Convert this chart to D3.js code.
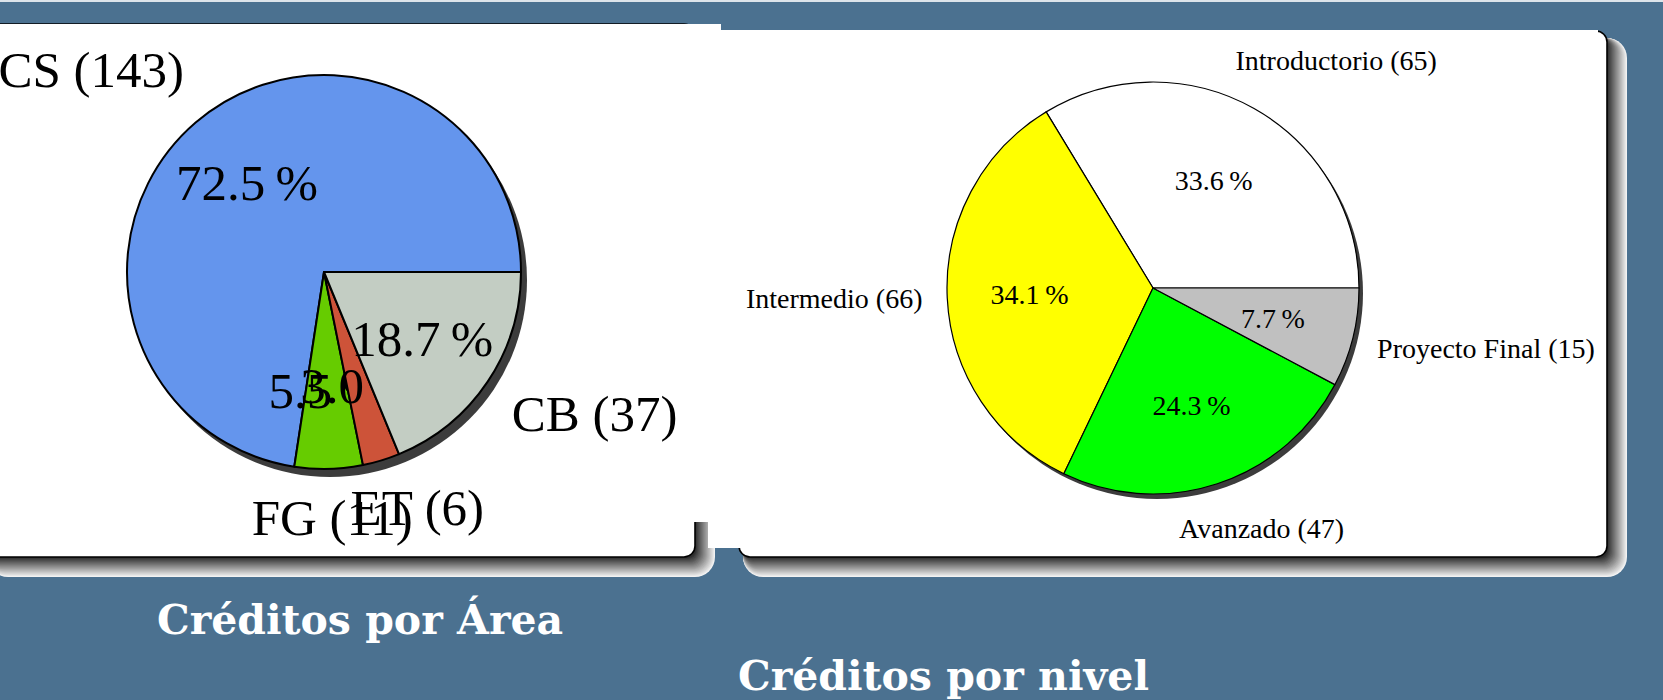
<!DOCTYPE html>
<html>
<head>
<meta charset="utf-8">
<script src="https://cdn.jsdelivr.net/npm/d3@7"></script>
<style>
  html, body { margin: 0; padding: 0; background: #4b7190; overflow: hidden; }
  svg { display: block; }
</style>
</head>
<body>
<div id="chart"></div>
<script>
// Créditos por Área
var areaNames = ["CS", "FG", "ET", "CB"];
var areaCredits = [143, 11, 6, 37];
var areaColors = ["#6495ed", "#66cc00", "#cd5339", "#c3cdc3"];

// Créditos por nivel
var levelNames = ["Introductorio", "Intermedio", "Avanzado", "Proyecto Final"];
var levelCredits = [65, 66, 47, 15];
var levelColors = ["#ffffff", "#ffff00", "#00ff00", "#c0c0c0"];

var titles = ["Créditos por Área", "Créditos por nivel"];

var width = 1663, height = 700;
var serif = "'Liberation Serif', 'DejaVu Serif', serif";

var svg = d3.select("#chart").append("svg")
  .attr("width", width)
  .attr("height", height);

svg.append("rect").attr("width", width).attr("height", height).attr("fill", "#4b7190");
svg.append("rect").attr("width", width).attr("height", 2).attr("fill", "#dde4ea");

// rounded white box with a soft shadow, plus the white picture laid over it
function panel(x, y, w, h, img) {
  var g = svg.append("g");
  var shade = d3.interpolateRgb("#2e2e2e", "#f2f2f2");
  for (var k = 20; k >= 1; k--) {
    g.append("rect")
      .attr("x", x + 4)
      .attr("y", y + 7)
      .attr("width", w + k - 4)
      .attr("height", h + k - 7)
      .attr("rx", 8 + k * 0.6)
      .attr("fill", shade((k - 1) / 19));
  }
  g.append("rect")
    .attr("x", x).attr("y", y)
    .attr("width", w).attr("height", h)
    .attr("rx", 11)
    .attr("fill", "white")
    .attr("stroke", "black")
    .attr("stroke-width", 1.6);
  g.append("rect")
    .attr("x", img[0]).attr("y", img[1])
    .attr("width", img[2]).attr("height", img[3])
    .attr("fill", "white");
}

panel(-16, 24, 711, 533, [0, 24, 721, 498]);
panel(739, 31, 868, 526, [708, 30, 890, 518]);

function drawPie(names, values, colors, opt) {
  var g = svg.append("g")
    .attr("transform", "translate(" + opt.cx + "," + opt.cy + ")")
    .style("font-family", serif);
  var total = d3.sum(values);
  // counter-clockwise from 3 o'clock, like pgf-pie
  var pie = d3.pie().sort(null)
    .startAngle(Math.PI / 2)
    .endAngle(Math.PI / 2 - 2 * Math.PI);
  var arc = d3.arc().innerRadius(0).outerRadius(opt.r);
  var arcs = pie(values);

  g.append("circle")
    .attr("cx", opt.shadow[0])
    .attr("cy", opt.shadow[1])
    .attr("r", opt.r)
    .attr("fill", "#3c3c3c");

  // each slice is drawn with its texts, so later slices cover earlier texts
  arcs.forEach(function(a, i) {
    g.append("path")
      .attr("d", arc(a))
      .attr("fill", colors[i])
      .attr("stroke", "black")
      .attr("stroke-width", opt.sw)
      .attr("stroke-linejoin", "round");

    var m = (a.startAngle + a.endAngle) / 2;
    var ux = Math.sin(m), uy = -Math.cos(m);
    var pct = (Math.floor(values[i] / total * 1000) / 10).toFixed(1) + "\u2009%";
    g.append("text")
      .attr("x", ux * opt.r * 0.6)
      .attr("y", uy * opt.r * 0.6)
      .attr("dy", "0.35em")
      .attr("text-anchor", "middle")
      .attr("font-size", opt.fs)
      .text(pct);

    var label = g.append("text")
      .attr("font-size", opt.fs)
      .text(names[i] + " (" + values[i] + ")");
    var w = label.node().getComputedTextLength();
    var px = ux * opt.r * 1.1, py = uy * opt.r * opt.ly;
    var ax = Math.max(-1, Math.min(1, 1.4 * ux));
    var ay = Math.max(-1, Math.min(1, 1.4 * uy));
    var pad = opt.fs * 0.15;
    var bw = w + 2 * pad, bh = opt.fs + 2 * pad;
    var left = px - bw * (1 - ax) / 2;
    var top = py - bh * (1 - ay) / 2;
    label.attr("x", left + pad).attr("y", top + pad + 0.75 * opt.fs);
  });
}

drawPie(areaNames, areaCredits, areaColors, {cx: 324, cy: 272, r: 197, fs: 51, sw: 2, ly: 1.1, shadow: [6, 8]});
drawPie(levelNames, levelCredits, levelColors, {cx: 1153, cy: 288, r: 206, fs: 28, sw: 1.2, ly: 1.15, shadow: [4, 5]});

svg.append("text")
  .attr("x", 157).attr("y", 634)
  .attr("fill", "white")
  .attr("font-family", "'DejaVu Serif', serif")
  .attr("font-weight", "bold")
  .attr("font-size", 41)
  .text(titles[0]);

svg.append("text")
  .attr("x", 738).attr("y", 690)
  .attr("fill", "white")
  .attr("font-family", "'DejaVu Serif', serif")
  .attr("font-weight", "bold")
  .attr("font-size", 41)
  .text(titles[1]);
</script>
</body>
</html>
